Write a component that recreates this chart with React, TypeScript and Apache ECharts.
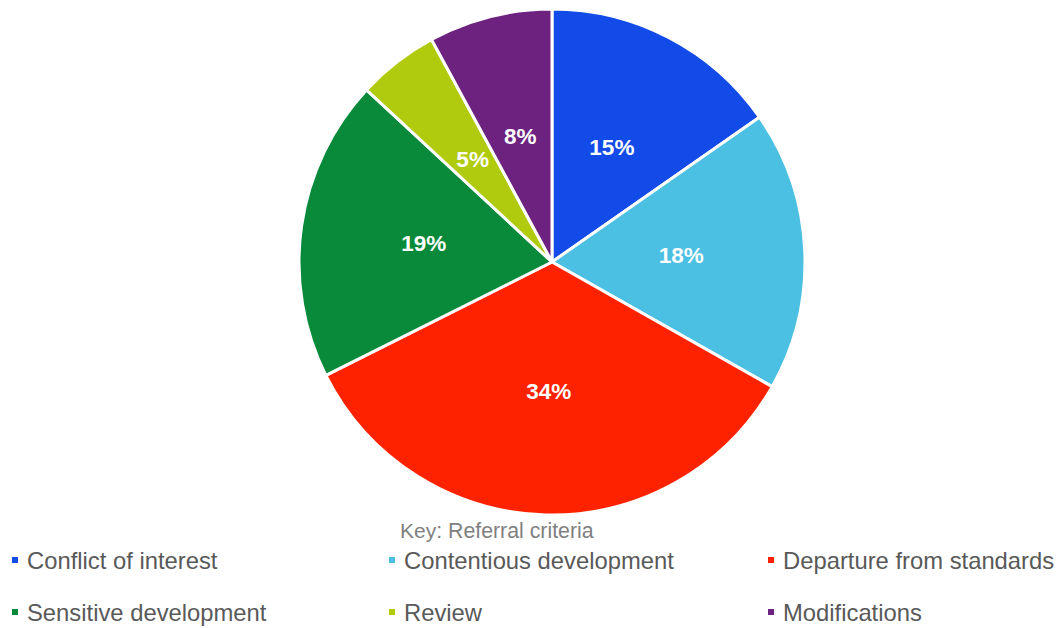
import React, { useEffect, useRef } from "react";
import * as echarts from "echarts";

const categories = [
  "Conflict of interest",
  "Contentious development",
  "Departure from standards",
  "Sensitive development",
  "Review",
  "Modifications",
];
const values = [15.3, 17.9, 34.4, 19.3, 5.2, 7.9];
const colors = ["#124BE8", "#4BC0E2", "#FF2200", "#088A3A", "#B0CB0E", "#6E2280"];
const legendRows = [
  ["Conflict of interest", "Contentious development", "Departure from standards"],
  ["Sensitive development", "Review", "Modifications"],
];

export default function App() {
  const ref = useRef<HTMLDivElement>(null);
  useEffect(() => {
    if (!ref.current) return;
    const chart = echarts.init(ref.current, undefined, { renderer: "svg" });
    const colLeft = [10, 387, 766];
    const rowTop = [548, 600];
    const legends: any[] = [];
    legendRows.forEach((row, ri) => {
      row.forEach((name, ci) => {
        legends.push({
          data: [name],
          left: colLeft[ci],
          top: rowTop[ri],
          padding: 0,
          itemWidth: 8,
          itemHeight: 8,
          icon: "rect",
          selectedMode: false,
          textStyle: {
            fontFamily: "Liberation Sans, Arial, sans-serif",
            fontSize: 23.8,
            color: "#595959",
            padding: [0, 0, 0, 3],
          },
        });
      });
    });
    chart.setOption({
      animation: false,
      color: colors,
      title: {
        text: "{a|Key}{b|: Referral criteria}",
        left: 400,
        top: 520,
        padding: 0,
        textStyle: {
          fontWeight: "normal",
          rich: {
            a: { fontFamily: "Liberation Sans, Arial, sans-serif", fontSize: 21, fontWeight: "normal", color: "#7F7F7F" },
            b: { fontFamily: "Liberation Sans, Arial, sans-serif", fontSize: 21.3, fontWeight: "normal", color: "#7F7F7F" },
          },
        },
      },
      legend: legends,
      series: [
        {
          type: "pie",
          center: [552, 262],
          radius: 253,
          startAngle: 90,
          clockwise: true,
          data: categories.map((c, i) => ({ name: c, value: values[i] })),
          itemStyle: { borderColor: "#ffffff", borderWidth: 3 },
          label: {
            position: "inside",
            formatter: (p: any) => Math.round(p.percent) + "%",
            color: "#ffffff",
            fontWeight: "bold",
            fontSize: 22.5,
            fontFamily: "Liberation Sans, Arial, sans-serif",
          },
          labelLine: { show: false },
          emphasis: { disabled: true },
        },
      ],
    });
    return () => chart.dispose();
  }, []);
  return (
    <div
      ref={ref}
      style={{ position: "fixed", left: 0, top: 0, width: 1059, height: 628, background: "#ffffff" }}
    />
  );
}
